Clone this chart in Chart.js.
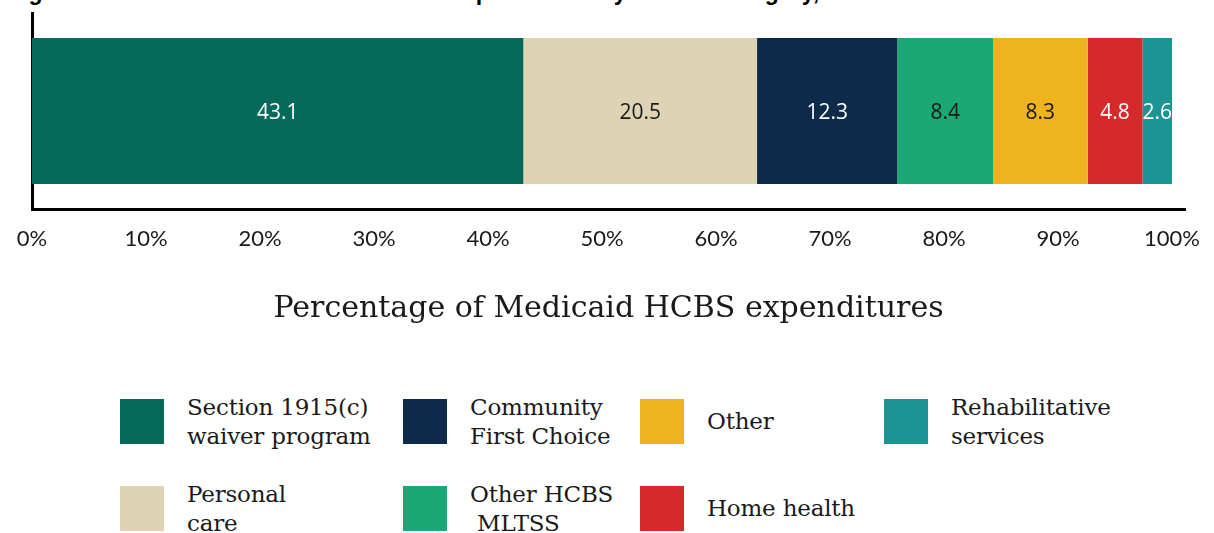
<!DOCTYPE html>
<html>
<head>
<meta charset="utf-8">
<script src="https://cdn.jsdelivr.net/npm/chart.js@4"></script>
<style>
  html, body { margin: 0; padding: 0; background: #fff; }
  #wrap { position: relative; width: 1214px; height: 533px; overflow: hidden; }
  #fig-title {
    position: absolute; left: 8px; top: -21px; white-space: nowrap;
    font: bold 23px "Liberation Sans", Arial, sans-serif; color: #000;
  }
  #hcbsChart { position: absolute; left: 0; top: 0; }
  .legend-item { position: absolute; display: flex; align-items: center; }
  .legend-item .swatch { width: 44px; height: 45px; flex: none; }
  .legend-item .text {
    margin-left: 23px; font: 23px "DejaVu Serif", serif; line-height: 29px;
    color: #1a1a1a; white-space: pre; letter-spacing: -0.2px;
  }
</style>
</head>
<body>
<div id="wrap">
  <div id="fig-title">Figure 1. Distribution of Medicaid HCBS expenditures by service category, 2019</div>
  <canvas id="hcbsChart" width="1214" height="340"></canvas>
  <div id="legend"></div>
</div>
<script>
// service categories, in stacking order
const categories = [
  "Section 1915(c) waiver program",
  "Personal care",
  "Community First Choice",
  "Other HCBS MLTSS",
  "Other",
  "Home health",
  "Rehabilitative services"
];
// share of HCBS spending, percent
const shares = [43.1, 20.5, 12.3, 8.4, 8.3, 4.8, 2.6];
const legendLines = [
  ["Section 1915(c)", "waiver program"],
  ["Personal", "care"],
  ["Community", "First Choice"],
  ["Other HCBS", " MLTSS"],
  ["Other"],
  ["Home health"],
  ["Rehabilitative", "services"]
];
const tickValues = [0, 10, 20, 30, 40, 50, 60, 70, 80, 90, 100];
const tickLabels = ["0%", "10%", "20%", "30%", "40%", "50%", "60%", "70%", "80%", "90%", "100%"];

const colors = ["#07695a", "#ded3b4", "#0e2a4b", "#1ca874", "#f0b320", "#d52a29", "#1b9493"];
const textColors = ["#ffffff", "#1a1a1a", "#ffffff", "#1a1a1a", "#1a1a1a", "#ffffff", "#ffffff"];

// writes each segment's value in the middle of its bar
const segmentLabels = {
  id: "segmentLabels",
  afterDatasetsDraw(chart) {
    const ctx = chart.ctx;
    ctx.save();
    ctx.font = '21px "Open Sans", sans-serif';
    ctx.textAlign = "center";
    ctx.textBaseline = "middle";
    chart.data.datasets.forEach((ds, i) => {
      const bar = chart.getDatasetMeta(i).data[0];
      ctx.fillStyle = textColors[i];
      ctx.fillText(ds.data[0].toFixed(1), (bar.x + bar.base) / 2, bar.y + 2);
    });
    ctx.restore();
  }
};

const ctx = document.getElementById("hcbsChart").getContext("2d");

const hcbsChart = new Chart(ctx, {
  type: "bar",
  data: {
    labels: [""],
    datasets: categories.map((name, i) => ({
      label: name,
      data: [shares[i]],
      backgroundColor: colors[i],
      borderWidth: 0,
      barPercentage: 0.745,
      categoryPercentage: 1
    }))
  },
  plugins: [segmentLabels],
  options: {
    indexAxis: "y",
    responsive: false,
    animation: false,
    layout: { padding: { left: 32, right: 29, top: 13, bottom: 0 } },
    plugins: { legend: { display: false }, tooltip: { enabled: false } },
    scales: {
      x: {
        stacked: true,
        min: 0,
        max: 101.14,
        afterBuildTicks(scale) {
          scale.ticks = tickValues.map(v => ({ value: v }));
        },
        afterFit(scale) {
          scale.height = 131;
          // the end labels may hang past the plot edges
          scale.paddingLeft = 0;
          scale.paddingRight = 0;
        },
        grid: { display: false, drawTicks: false },
        border: { display: true, color: "#000", width: 3 },
        ticks: {
          padding: 17,
          color: "#1a1a1a",
          font: { family: "Lato", size: 22 },
          callback: (v) => tickLabels[tickValues.indexOf(v)]
        },
        title: {
          display: true,
          text: "Percentage of Medicaid HCBS expenditures",
          color: "#1a1a1a",
          font: { family: "DejaVu Serif", size: 30 },
          padding: { top: 0, bottom: 13 }
        }
      },
      y: {
        stacked: true,
        afterFit(scale) { scale.width = 0; },
        grid: { display: false, drawTicks: false },
        border: { display: true, color: "#000", width: 3 },
        ticks: { display: false }
      }
    }
  }
});

// two-row legend, filled column by column
const colLeft = [120, 403, 640, 884];
const rowTop = [399, 486];
const legend = document.getElementById("legend");
categories.forEach((name, i) => {
  const item = document.createElement("div");
  item.className = "legend-item";
  item.style.left = colLeft[Math.floor(i / 2)] + "px";
  item.style.top = rowTop[i % 2] + "px";
  item.style.height = "45px";
  const sw = document.createElement("div");
  sw.className = "swatch";
  sw.style.background = colors[i];
  const tx = document.createElement("div");
  tx.className = "text";
  tx.textContent = legendLines[i].join("\n");
  item.appendChild(sw);
  item.appendChild(tx);
  legend.appendChild(item);
});
</script>
</body>
</html>
